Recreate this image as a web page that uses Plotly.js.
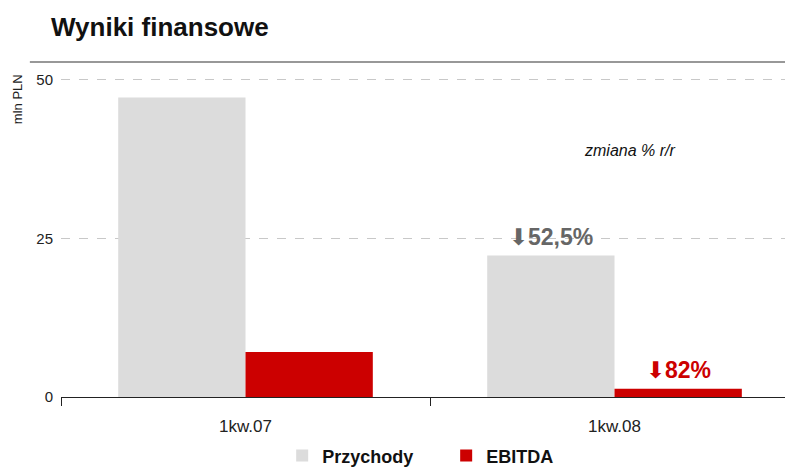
<!DOCTYPE html>
<html><head><meta charset="utf-8">
<script src="https://cdn.plot.ly/plotly-3.0.1.min.js"></script>
<style>html,body{margin:0;padding:0;background:#fff}#chart{width:785px;height:467px}</style>
</head><body><div id="chart"></div>
<script>
const categories = ['1kw.07', '1kw.08'];
const przychody = [47.2, 22.3];
const ebitda = [7.1, 1.3];
const changeLabels = ['52,5%', '82%'];
const yTicks = [0, 25, 50];

const font = 'Liberation Sans, Arial, sans-serif';
const traces = [
  {type:'bar', name:'Przychody', x:categories, y:przychody, marker:{color:'#dcdcdc'}, hoverinfo:'none'},
  {type:'bar', name:'EBITDA', x:categories, y:ebitda, marker:{color:'#cc0000'}, hoverinfo:'none'}
];
const layout = {
  width:785, height:467,
  margin:{l:61, r:0, t:62, b:70},
  paper_bgcolor:'#fff', plot_bgcolor:'#fff',
  barmode:'group', bargap:0.31, bargroupgap:0,
  font:{family:font, color:'#222'},
  title:{text:'Wyniki finansowe', x:0, xref:'paper', xanchor:'left', y:0.962, yref:'container',
    font:{family:font, size:26, weight:'bold', color:'#111'}, pad:{l:-10}},
  xaxis:{range:[-0.5, 1.462], type:'category', showline:true, linecolor:'#222', linewidth:1,
    ticks:'outside', tickson:'boundaries', ticklen:8, tickcolor:'#222',
    tickfont:{size:17, color:'#222'}, ticklabelstandoff:14, fixedrange:true},
  yaxis:{range:[0, 52.8], tickvals:yTicks, ticktext:yTicks.map(String), showgrid:true,
    gridcolor:'#c8c8c8', griddash:'dash', gridwidth:1, zeroline:false, showline:false,
    ticks:'', tickfont:{size:15, color:'#222'}, ticklabelstandoff:7, fixedrange:true},
  legend:{orientation:'h', x:0.532, xanchor:'center', xref:'paper', y:0.024, yref:'container', yanchor:'middle',
    font:{size:18, weight:'bold', color:'#111'}, itemwidth:30, entrywidth:119, traceorder:'normal'},
  shapes:[{type:'line', xref:'paper', yref:'paper', x0:-0.043, x1:1, y0:1, y1:1, line:{color:'#333', width:1.2}}],
  annotations:[
    {text:'mln PLN', textangle:-90, xref:'paper', yref:'paper', x:-0.059, xanchor:'center', y:0.89, yanchor:'middle', showarrow:false, font:{size:13, color:'#222'}},
    {text:'<i>zmiana % r/r</i>', xref:'paper', yref:'paper', x:0.785, y:0.735, xanchor:'center', yanchor:'middle', showarrow:false, font:{size:16, color:'#111'}},
    {text:'<span style="font-size:23px">⬇</span><b>'+changeLabels[0]+'</b>', x:categories[1], xshift:-64, y:przychody[1]+2.9, xanchor:'center', yanchor:'middle', showarrow:false, font:{size:23, color:'#666'}},
    {text:'<span style="font-size:23px">⬇</span><b>'+changeLabels[1]+'</b>', x:categories[1], xshift:64, y:ebitda[1]+3.0, xanchor:'center', yanchor:'middle', showarrow:false, font:{size:23, color:'#cc0000'}}
  ]
};
Plotly.newPlot('chart', traces, layout, {staticPlot:true});
</script></body></html>
